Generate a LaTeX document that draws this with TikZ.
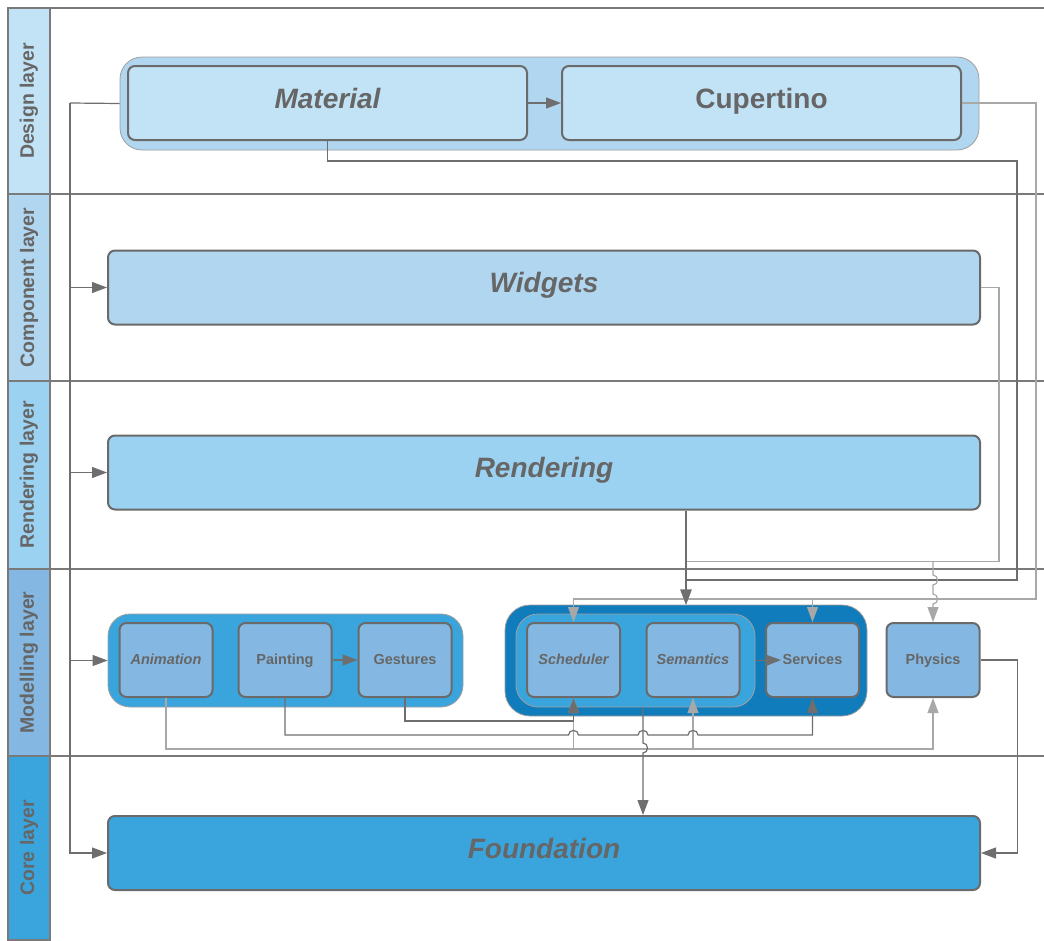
\documentclass[tikz,border=0pt]{standalone}
\usepackage{fontspec}
\setmainfont{Liberation Sans}
\usetikzlibrary{arrows.meta}
\definecolor{txtgray}{HTML}{666666}
\definecolor{boxgray}{HTML}{6A6A6A}
\definecolor{framegray}{HTML}{7A7A7A}
\definecolor{linegray}{HTML}{6E6E6E}
\definecolor{lightline}{HTML}{A8A8A8}
\definecolor{dsgfill}{HTML}{C2E3F6}
\definecolor{cmpfill}{HTML}{B1D6EF}
\definecolor{rndfill}{HTML}{9BD2F2}
\definecolor{modfill}{HTML}{84B8E2}
\definecolor{corefill}{HTML}{3AA5DD}
\definecolor{darkfill}{HTML}{107CBB}

\begin{document}
\begin{tikzpicture}[x=1pt,y=-1pt,
  hdr/.style={draw=framegray, line width=1.3pt, rotate=90, minimum height=42pt, inner sep=0pt, text=txtgray, font=\fontsize{19.5}{21}\selectfont\bfseries},
  lane/.style={draw=framegray, line width=1.3pt},
  grp/.style={draw=gray!75, line width=0.8pt, rounded corners=22pt, inner sep=0pt},
  big/.style={draw=boxgray, line width=2pt, rounded corners=7pt, minimum height=74pt, inner sep=0pt, text height=1.05em, text depth=0pt, text=txtgray, font=\fontsize{28}{30}\selectfont\bfseries},
  sml/.style={draw=boxgray, line width=2pt, rounded corners=7pt, fill=modfill, minimum width=93pt, minimum height=74pt, inner sep=0pt, text height=0.85em, text depth=0pt, text=txtgray, font=\fontsize{14.5}{16}\selectfont\bfseries},
  arr/.style={-{Triangle[length=15pt,width=11pt]}, line width=1.2pt, draw=linegray},
  arrL/.style={arr, draw=lightline},
  lnk/.style={line width=1.2pt, draw=linegray}]
\useasboundingbox (0,0) rectangle (1044,940);
% lanes
\draw[lane] (8,8) -- (1044,8);
\foreach \yy in {194,381,569,756} \draw[lane] (50,\yy) -- (1044,\yy);
\node[hdr, fill=dsgfill, minimum width=186pt] (hD) at (29,101) {Design layer};
\node[hdr, fill=cmpfill, minimum width=187pt] (hC) at (29,287.5) {Component layer};
\node[hdr, fill=rndfill, minimum width=188pt] (hR) at (29,475) {Rendering layer};
\node[hdr, fill=modfill, minimum width=187pt] (hM) at (29,662.5) {Modelling layer};
\node[hdr, fill=corefill, minimum width=184pt] (hK) at (29,848) {Core layer};
% design
\node[grp, fill=cmpfill, minimum width=859pt, minimum height=93pt] (dsg) at (549.5,103.5) {};
\node[big, fill=dsgfill, minimum width=399pt] (mat) at (327.5,103) {\itshape Material};
\node[big, fill=dsgfill, minimum width=399pt] (cup) at (761.5,103) {Cupertino};
% component, rendering
\node[big, fill=cmpfill, minimum width=872pt] (wdg) at (544,287.5) {\itshape Widgets};
\node[big, fill=rndfill, minimum width=872pt] (rnd) at (544,472.5) {\itshape Rendering};
% modelling
\node[grp, fill=corefill, minimum width=355pt, minimum height=93pt] (grpA) at (285.5,660.5) {};
\node[grp, fill=darkfill, rounded corners=25pt, minimum width=362pt, minimum height=111pt] (grpB) at (686,660.5) {};
\node[grp, fill=corefill, minimum width=239pt, minimum height=93pt] (grpS) at (635.5,660.5) {};
\node[sml] (ani) at (166,660) {\itshape Animation};
\node[sml] (pnt) at (285,660) {Painting};
\node[sml] (gst) at (405,660) {Gestures};
\node[sml] (sch) at (573.5,660) {\itshape Scheduler};
\node[sml] (sem) at (693,660) {\itshape Semantics};
\node[sml] (svc) at (812.5,660) {Services};
\node[sml] (phy) at (933,660) {Physics};
% core
\node[big, fill=corefill, minimum width=872pt] (fnd) at (544,853) {\itshape Foundation};
% connectors
\coordinate (bus) at (70,103);
\draw[lnk] (dsg.west) -- (bus);
\draw[arr] (bus) |- (wdg.west);
\draw[arr] (bus) |- (rnd.west);
\draw[arr] (bus) |- (grpA.west);
\draw[arr] (bus) |- (fnd.west);
\draw[arr] (mat) -- (cup);
\draw[arrL] (cup.east) -- ++(74,0) -- ++(0,496) -| (sch.north);
\draw[arrL] (svc.north |- 0,599) -- (svc.north);
\draw[arr] (mat.south) -- ++(0,20) -| (1017,580) -| (grpB.north);
\draw[arrL] (wdg.east) -- ++(18,0) -- ++(0,274) -| (grpB.north);
\draw[arrL] (phy.north |- 0,562) -- (933,575) .. controls (939,575) and (939,585) .. (933,585)
  -- (933,594) .. controls (939,594) and (939,604) .. (933,604) -- (phy.north);
\draw[arr] (rnd.south -| grpB.north) -- (grpB.north);
\draw[arr] (pnt) -- (gst);
\draw[arr] (grpS.east) -- ([xshift=16pt]svc.west);
\draw[arrL] (ani.south) -- ++(0,51) -| (phy.south);
\draw[arrL] (sch.south |- 0,748) -- (sch.south);
\draw[arrL] (sem.south |- 0,748) -- (sem.south);
\draw[arr] (pnt.south) -- (285,735) -- (568.5,735) .. controls (568.5,729) and (578.5,729) .. (578.5,735)
  -- (638,735) .. controls (638,729) and (648,729) .. (648,735)
  -- (688,735) .. controls (688,729) and (698,729) .. (698,735) -| (svc.south);
\draw[arr] (gst.south) -- ++(0,23) -| (sch.south);
\draw[arr] ([xshift=7.5pt]grpS.south) -- (643,743) .. controls (649,743) and (649,753) .. (643,753) -- (fnd.north -| 643,0);
\draw[arr] (phy.east) -- ++(37,0) |- (fnd.east);
\end{tikzpicture}
\end{document}
